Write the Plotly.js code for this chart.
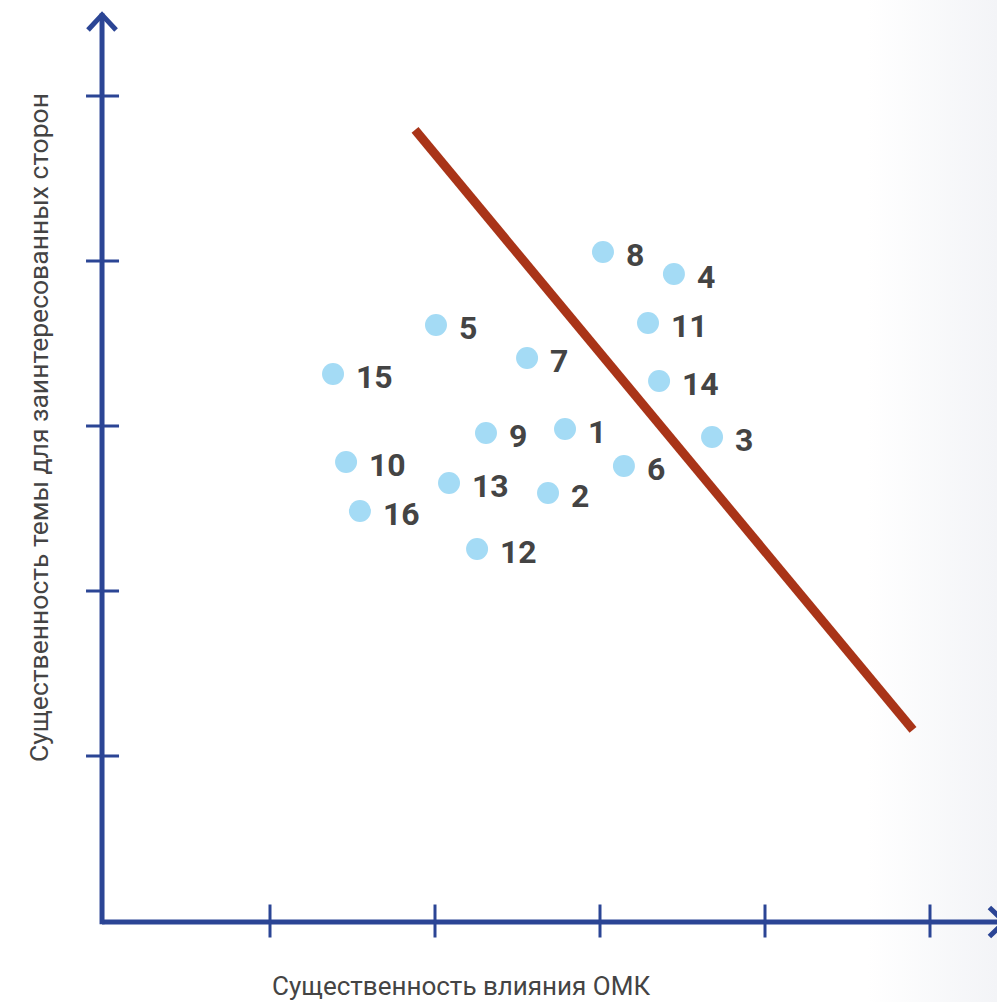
<!DOCTYPE html>
<html>
<head>
<meta charset="utf-8">
<script src="https://cdn.plot.ly/plotly-3.0.1.min.js"></script>
<style>
  html, body { margin: 0; padding: 0; }
  body { width: 997px; height: 1002px; overflow: hidden;
         background: linear-gradient(to right, #ffffff 0%, #ffffff 87%, #f3f4f7 100%); }
  #chart { width: 997px; height: 1002px; }
</style>
</head>
<body>
<div id="chart"></div>
<script>
// Topic numbers
const labels = ["8", "4", "11", "5", "7", "15", "14", "9", "1", "3", "10", "6", "13", "2", "16", "12"];
// Materiality of OMK impact (x)
const impact = [3.018, 3.448, 3.291, 2.006, 2.558, 1.382, 3.358, 2.309, 2.788, 3.679, 1.461, 3.145, 2.085, 2.685, 1.545, 2.255];
// Materiality for stakeholders (y)
const stakeholders = [4.055, 3.921, 3.624, 3.612, 3.412, 3.315, 3.273, 2.958, 2.982, 2.933, 2.782, 2.758, 2.655, 2.594, 2.485, 2.255];
// Materiality threshold line
const thresholdX = [1.879, 4.897];
const thresholdY = [4.794, 1.158];
// Axis ticks
const tickVals = [1, 2, 3, 4, 5];

const axisColor = "#2b4595";
const shapes = [];
// axis lines
shapes.push({type: "line", xref: "x", yref: "y", x0: -0.018, x1: 5.44, y0: -0.006, y1: -0.006,
             line: {color: axisColor, width: 5}});
shapes.push({type: "line", xref: "x", yref: "y", x0: -0.018, x1: -0.018, y0: -0.02, y1: 5.5,
             line: {color: axisColor, width: 5}});
// arrow heads
shapes.push({type: "path", xref: "x", yref: "y",
             path: "M -0.103 5.40 L -0.018 5.492 L 0.067 5.40", line: {color: axisColor, width: 5}});
shapes.push({type: "path", xref: "x", yref: "y",
             path: "M 5.36 0.082 L 5.452 -0.006 L 5.36 -0.094", line: {color: axisColor, width: 5}});
// ticks
tickVals.forEach(v => {
  shapes.push({type: "line", xref: "x", yref: "y", x0: v, x1: v, y0: -0.1, y1: 0.1,
               line: {color: axisColor, width: 3}});
  shapes.push({type: "line", xref: "x", yref: "y", x0: -0.115, x1: 0.085, y0: v, y1: v,
               line: {color: axisColor, width: 3}});
});

const annotations = labels.map((t, i) => ({
  x: impact[i], y: stakeholders[i], xref: "x", yref: "y", text: t, showarrow: false,
  xanchor: "left", yanchor: "middle", xshift: 21, yshift: -3,
  font: {family: "Roboto, sans-serif", size: 32, color: "#444444", weight: 700}
}));
annotations.push({
  xref: "paper", yref: "paper", x: 461 / 997, y: 0, text: "Существенность влияния ОМК",
  showarrow: false, xanchor: "center", yanchor: "bottom", borderpad: 0,
  font: {family: "Roboto, sans-serif", size: 26, color: "#444444"}
});
annotations.push({
  xref: "paper", yref: "paper", x: 39 / 997, y: 1 - 428 / 1002, text: "Существенность темы для заинтересованных сторон",
  showarrow: false, xanchor: "center", yanchor: "middle", textangle: -90,
  font: {family: "Roboto, sans-serif", size: 26.5, color: "#444444"}
});

const traces = [
  {x: thresholdX, y: thresholdY, type: "scatter", mode: "lines",
   line: {color: "#a93418", width: 9}, hoverinfo: "skip"},
  {x: impact, y: stakeholders, type: "scatter", mode: "markers",
   marker: {color: "#a4dbf5", size: 22, line: {width: 0}}, hoverinfo: "skip"}
];

const layout = {
  width: 997, height: 1002,
  margin: {l: 0, r: 0, t: 0, b: 0},
  paper_bgcolor: "rgba(0,0,0,0)", plot_bgcolor: "rgba(0,0,0,0)",
  showlegend: false,
  xaxis: {range: [-105 / 165, 892 / 165], visible: false, fixedrange: true},
  yaxis: {range: [-81 / 165, 921 / 165], visible: false, fixedrange: true},
  shapes: shapes, annotations: annotations
};
Plotly.newPlot("chart", traces, layout, {staticPlot: true, displayModeBar: false});
</script>
</body>
</html>
